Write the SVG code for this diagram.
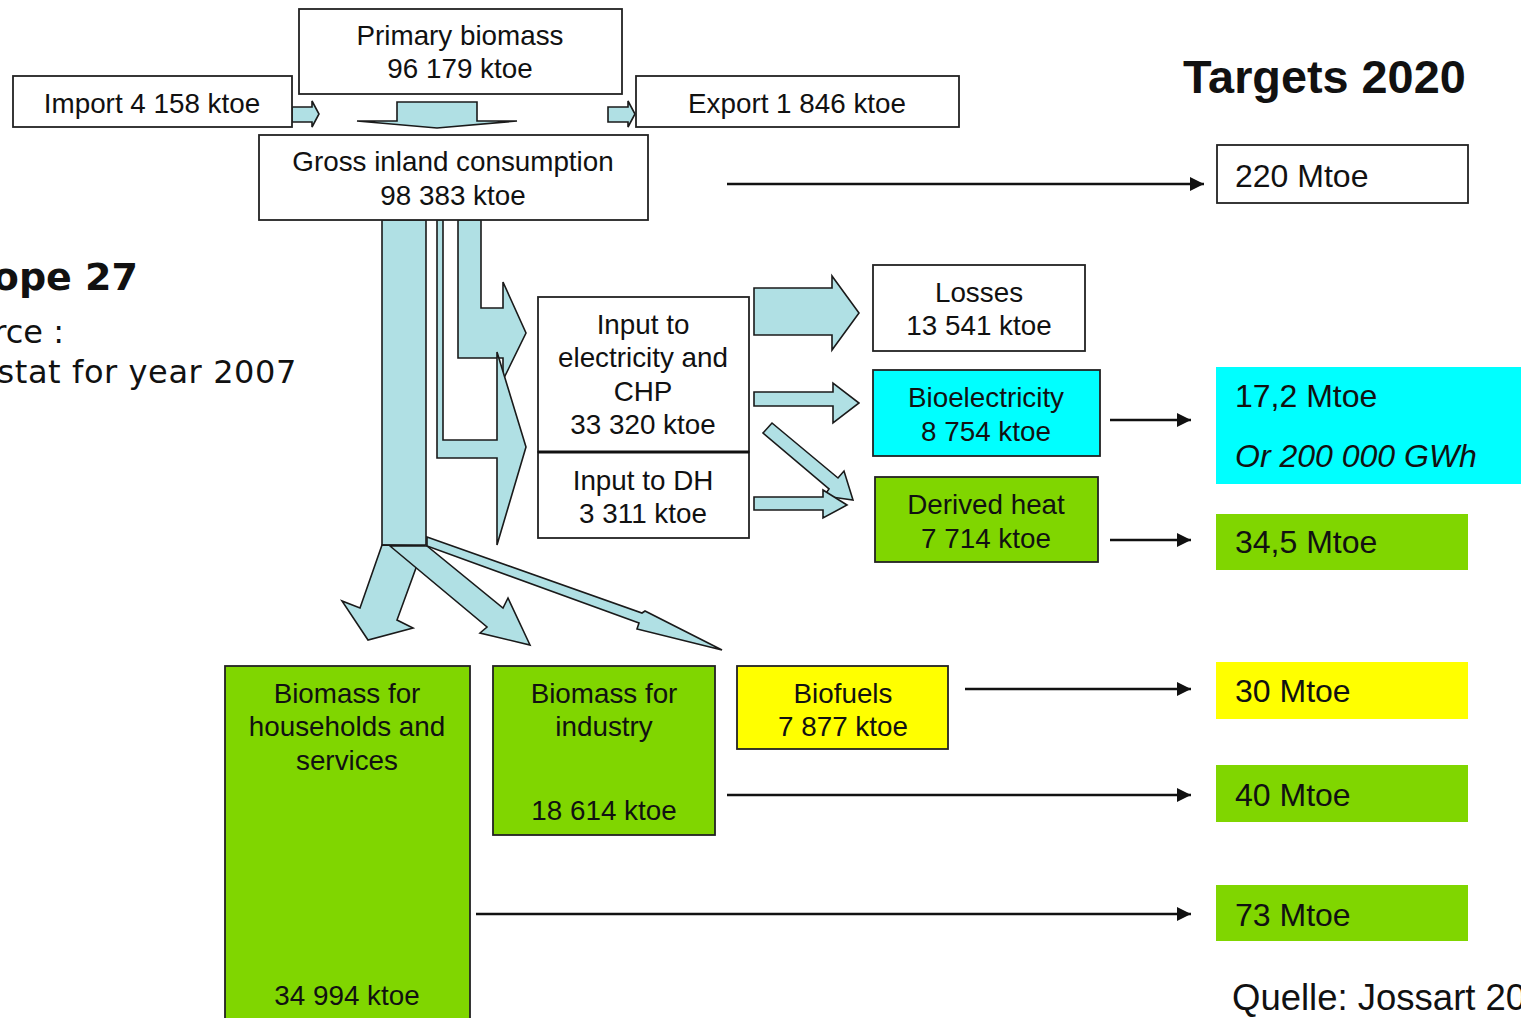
<svg xmlns="http://www.w3.org/2000/svg" width="1521" height="1018" viewBox="0 0 1521 1018">
<style>
text{font-family:"Liberation Sans",Arial,sans-serif;fill:#111}
.n{font-size:27.8px;text-anchor:middle}
.t{font-size:32px}
.box{stroke:#222;stroke-width:1.8}
.flow{fill:#B0E0E4;stroke:#1a1a1a;stroke-width:1.6;stroke-linejoin:miter}
.ln{stroke:#111;stroke-width:2.4;fill:none;marker-end:url(#ah)}
.side{font-family:"DejaVu Sans",Verdana,sans-serif;text-anchor:end}
</style>
<defs>
<marker id="ah" markerUnits="userSpaceOnUse" markerWidth="15" markerHeight="14" refX="14" refY="7" orient="auto">
<path d="M0,0 L14,7 L0,14 z" fill="#111"/>
</marker>
</defs>
<rect width="1521" height="1018" fill="#fff"/>

<g id="side-text">
<text class="side" x="138" y="290" font-size="38" font-weight="bold">ope 27</text>
<text class="side" x="64" y="343" font-size="32">rce :</text>
<text class="side" x="297" y="383" font-size="32" letter-spacing="0.6">stat for year 2007</text>
</g>

<g id="title"><text x="1183" y="93" font-size="46.8" font-weight="bold">Targets 2020</text></g>

<g id="flows">
<polygon class="flow" points="292,107 312,107 312,101 319,114 312,127 312,122 292,122"/>
<polygon class="flow" points="397,102 477,102 477,121 517,121 437,128 357,121 397,121"/>
<polygon class="flow" points="608,107 628,107 628,101 635,114 628,127 628,122 608,122"/>
<polygon class="flow" points="458,220 481,220 481,308 503,308 503,282 526,333 503,380 503,358 458,358"/>
<polygon class="flow" points="437,220 443,220 443,440 497,440 497,352 526,447 497,545 497,458 437,458"/>
<polygon class="flow" points="382,220 426,220 426,545 382,545"/>
<polygon class="flow" points="382,545 360,608 342,601 368,640 413,628 397,620 424,546"/>
<polygon class="flow" points="390,546 487,627 480,633 530,645 508,598 503,608 427,546"/>
<polygon class="flow" points="427,537 642,613 645,611 722,650 637,629 639,623 427,546"/>
<polygon class="flow" points="754,288 832,288 832,276 859,313 832,350 832,335 754,335"/>
<polygon class="flow" points="754,392 833,392 833,383 859,403 833,423 833,406 754,406"/>
<polygon class="flow" points="772,423 838,478 844,471 853,500 824,496 829,489 763,433"/>
<polygon class="flow" points="754,497 823,497 823,490 847,505 823,518 823,510 754,510"/>
</g>

<g id="connectors">
<line class="ln" x1="727" y1="184" x2="1204" y2="184"/>
<line class="ln" x1="1110" y1="420" x2="1191" y2="420"/>
<line class="ln" x1="1110" y1="540" x2="1191" y2="540"/>
<line class="ln" x1="965" y1="689" x2="1191" y2="689"/>
<line class="ln" x1="727" y1="795" x2="1191" y2="795"/>
<line class="ln" x1="476" y1="914" x2="1191" y2="914"/>
</g>

<g id="primary"><rect class="box" x="299" y="9" width="323" height="85" fill="#fff"/>
<text class="n" x="460" y="45">Primary biomass</text><text class="n" x="460" y="78">96 179 ktoe</text></g>
<g id="import"><rect class="box" x="13" y="76" width="279" height="51" fill="#fff"/>
<text class="n" x="152" y="113">Import 4 158 ktoe</text></g>
<g id="export"><rect class="box" x="636" y="76" width="323" height="51" fill="#fff"/>
<text class="n" x="797" y="113">Export 1 846 ktoe</text></g>
<g id="gross"><rect class="box" x="259" y="135" width="389" height="85" fill="#fff"/>
<text class="n" x="453" y="171">Gross inland consumption</text><text class="n" x="453" y="205">98 383 ktoe</text></g>

<g id="input-elec"><rect class="box" x="538" y="297" width="211" height="155" fill="#fff"/>
<text class="n" x="643" y="334">Input to</text><text class="n" x="643" y="367">electricity and</text><text class="n" x="643" y="401">CHP</text><text class="n" x="643" y="434">33 320 ktoe</text></g>
<g id="input-dh"><rect class="box" x="538" y="452" width="211" height="86" fill="#fff"/>
<line x1="538" y1="452" x2="749" y2="452" stroke="#111" stroke-width="3"/>
<text class="n" x="643" y="490">Input to DH</text><text class="n" x="643" y="523">3 311 ktoe</text></g>

<g id="losses"><rect class="box" x="873" y="265" width="212" height="86" fill="#fff"/>
<text class="n" x="979" y="302">Losses</text><text class="n" x="979" y="335">13 541 ktoe</text></g>
<g id="bioelec"><rect class="box" x="873" y="370" width="227" height="86" fill="#00FFFF"/>
<text class="n" x="986" y="407">Bioelectricity</text><text class="n" x="986" y="441">8 754 ktoe</text></g>
<g id="heat"><rect class="box" x="875" y="477" width="223" height="85" fill="#80D600"/>
<text class="n" x="986" y="514">Derived heat</text><text class="n" x="986" y="548">7 714 ktoe</text></g>

<g id="households"><rect class="box" x="225" y="666" width="245" height="360" fill="#80D600"/>
<text class="n" x="347" y="703">Biomass for</text><text class="n" x="347" y="736">households and</text><text class="n" x="347" y="770">services</text><text class="n" x="347" y="1005">34 994 ktoe</text></g>
<g id="industry"><rect class="box" x="493" y="666" width="222" height="169" fill="#80D600"/>
<text class="n" x="604" y="703">Biomass for</text><text class="n" x="604" y="736">industry</text><text class="n" x="604" y="820">18 614 ktoe</text></g>
<g id="biofuels"><rect class="box" x="737" y="666" width="211" height="83" fill="#FFFF00"/>
<text class="n" x="843" y="703">Biofuels</text><text class="n" x="843" y="736">7 877 ktoe</text></g>

<g id="t220"><rect class="box" x="1217" y="145" width="251" height="58" fill="#fff"/>
<text class="t" x="1235" y="187">220 Mtoe</text></g>
<g id="t172"><rect x="1216" y="367" width="305" height="117" fill="#00FFFF"/>
<text class="t" x="1235" y="407">17,2 Mtoe</text><text class="t" x="1235" y="467" font-style="italic">Or 200 000 GWh</text></g>
<g id="t345"><rect x="1216" y="514" width="252" height="56" fill="#80D600"/>
<text class="t" x="1235" y="553">34,5 Mtoe</text></g>
<g id="t30"><rect x="1216" y="662" width="252" height="57" fill="#FFFF00"/>
<text class="t" x="1235" y="702">30 Mtoe</text></g>
<g id="t40"><rect x="1216" y="765" width="252" height="57" fill="#80D600"/>
<text class="t" x="1235" y="806">40 Mtoe</text></g>
<g id="t73"><rect x="1216" y="885" width="252" height="56" fill="#80D600"/>
<text class="t" x="1235" y="926">73 Mtoe</text></g>

<g id="source"><text x="1232" y="1010" font-size="36.5">Quelle: Jossart 20</text></g>
</svg>
